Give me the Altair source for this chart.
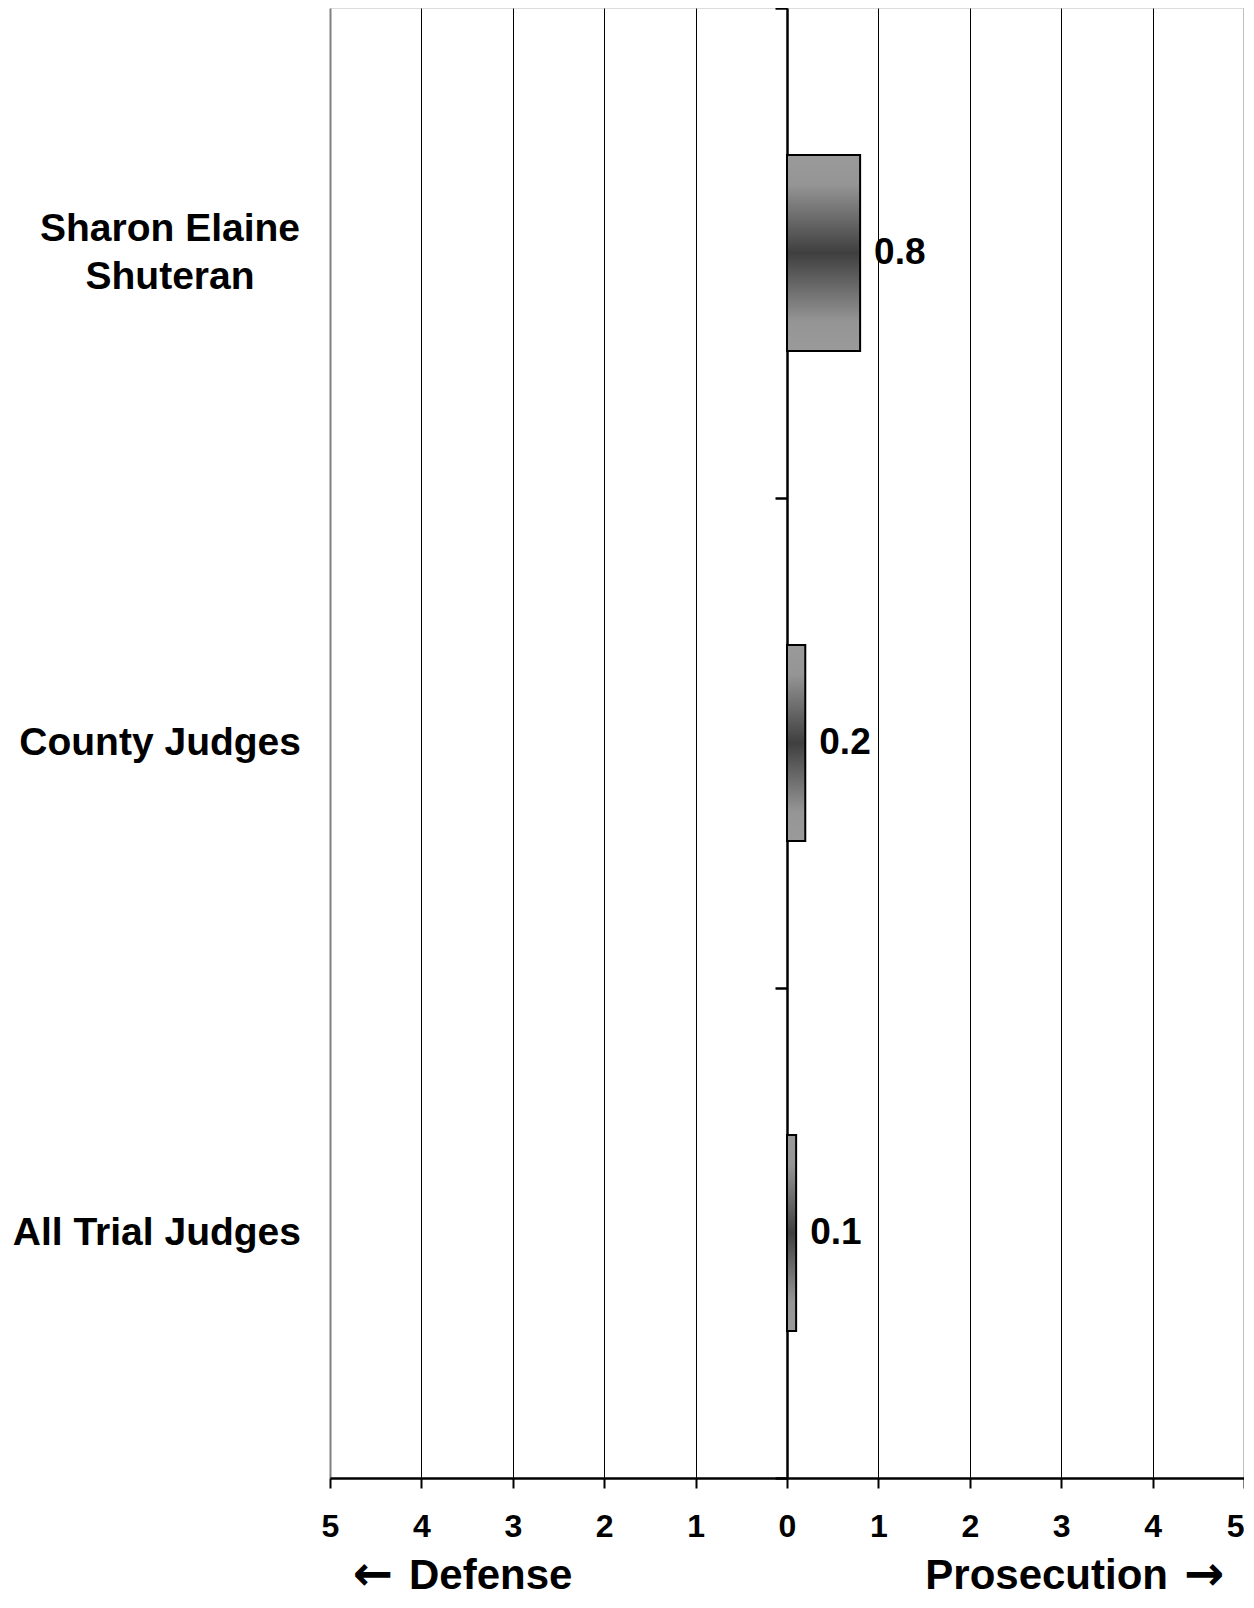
import altair as alt
import pandas as pd

categories = ["Sharon Elaine Shuteran", "County Judges", "All Trial Judges"]
label_text = ["Sharon Elaine|Shuteran", "County Judges", "All Trial Judges"]
values = [0.8, 0.2, 0.1]
value_labels = ["0.8", "0.2", "0.1"]
x_ticks = [-5, -4, -3, -2, -1, 0, 1, 2, 3, 4, 5]
left_title = "Defense"
right_title = "Prosecution"
left_arrow = "←"
right_arrow = "→"

df = pd.DataFrame({"category": categories, "label": label_text,
                   "value": values, "vlabel": value_labels})

FONT = "Liberation Sans"
W, H = 914, 1470

gradient = alt.LinearGradient(
    gradient="linear", x1=0, x2=0, y1=0, y2=1,
    stops=[
        alt.GradientStop(color="#9a9a9a", offset=0),
        alt.GradientStop(color="#959595", offset=0.15),
        alt.GradientStop(color="#3f3f3f", offset=0.5),
        alt.GradientStop(color="#959595", offset=0.85),
        alt.GradientStop(color="#9a9a9a", offset=1),
    ],
)

xscale = alt.Scale(domain=[-5, 5], nice=False, zero=False)
yscale = alt.Scale(domain=categories, paddingInner=0, paddingOuter=0)

x_axis = alt.Axis(
    values=x_ticks, title=None, orient="bottom",
    labelExpr="format(abs(datum.value), 'd')",
    labelFont=FONT, labelFontSize=32, labelFontWeight="bold", labelColor="black",
    labelPadding=23, tickSize=10, tickWidth=2, tickColor="black",
    labelFlush=False,
    labelAlign={"condition": {"test": "datum.value == 5", "value": "right"}, "value": "center"},
    domainColor="black", domainWidth=2.5,
    grid=True,
    gridColor={"condition": {"test": "abs(datum.value) == 5", "value": "#808080"}, "value": "black"},
    gridWidth={"condition": {"test": "abs(datum.value) == 5", "value": 2}, "value": 1},
    gridOpacity=1,
)

y_axis = alt.Axis(
    title=None, labels=False, grid=False, offset=-(W / 2),
    tickBand="extent", tickSize=12, tickWidth=2.5, tickColor="black",
    domainColor="black", domainWidth=2.5,
)

X = alt.X("value:Q", scale=xscale, axis=x_axis)
Y = alt.Y("category:N", scale=yscale, sort=categories, axis=y_axis)

base = alt.Chart(df)

bars = base.mark_bar(
    fill=gradient, stroke="black", strokeWidth=2,
    height=alt.RelativeBandSize(0.4),
).encode(x=X, x2=alt.datum(0), y=Y)

vtext = base.mark_text(
    align="left", baseline="middle", dx=14, font=FONT, fontSize=37,
    fontWeight="bold", color="black",
).encode(x=X, y=Y, text="vlabel:N")

cat_single = base.transform_filter("indexof(datum.label, '|') < 0").mark_text(
    align="right", baseline="middle", font=FONT, fontSize=39,
    fontWeight="bold", color="black",
).encode(x=alt.value(-29), y=Y, text="label:N")

cat_multi = base.transform_filter("indexof(datum.label, '|') >= 0").mark_text(
    align="center", baseline="middle", font=FONT, fontSize=39,
    fontWeight="bold", color="black", lineBreak="|", lineHeight=48, dy=-24,
).encode(x=alt.value(-160), y=Y, text="label:N")

TY = H + 98


def txt(s, x, align, font=FONT, size=42):
    return alt.Chart(pd.DataFrame({"t": [s]})).mark_text(
        align=align, baseline="middle", font=font, fontSize=size,
        fontWeight="bold", color="black",
    ).encode(x=alt.value(x), y=alt.value(TY), text="t:N")


t_left_arrow = txt(left_arrow, 43, "center", font="DejaVu Sans", size=48)
t_left = txt(left_title, 79, "left", size=42)
t_right = txt(right_title, 838, "right")
t_right_arrow = txt(right_arrow, 874, "center", font="DejaVu Sans", size=48)

chart = alt.layer(
    bars, vtext, cat_single, cat_multi,
    t_left_arrow, t_left, t_right, t_right_arrow,
).properties(
    width=W, height=H,
    padding={"left": 322, "top": 0, "right": 0, "bottom": 122},
    autosize=alt.AutoSizeParams(type="none"),
).configure_view(
    stroke="#808080", strokeWidth=2,
).configure(background="white")

chart.save("out.html", embed_options={"renderer": "svg", "actions": False})
